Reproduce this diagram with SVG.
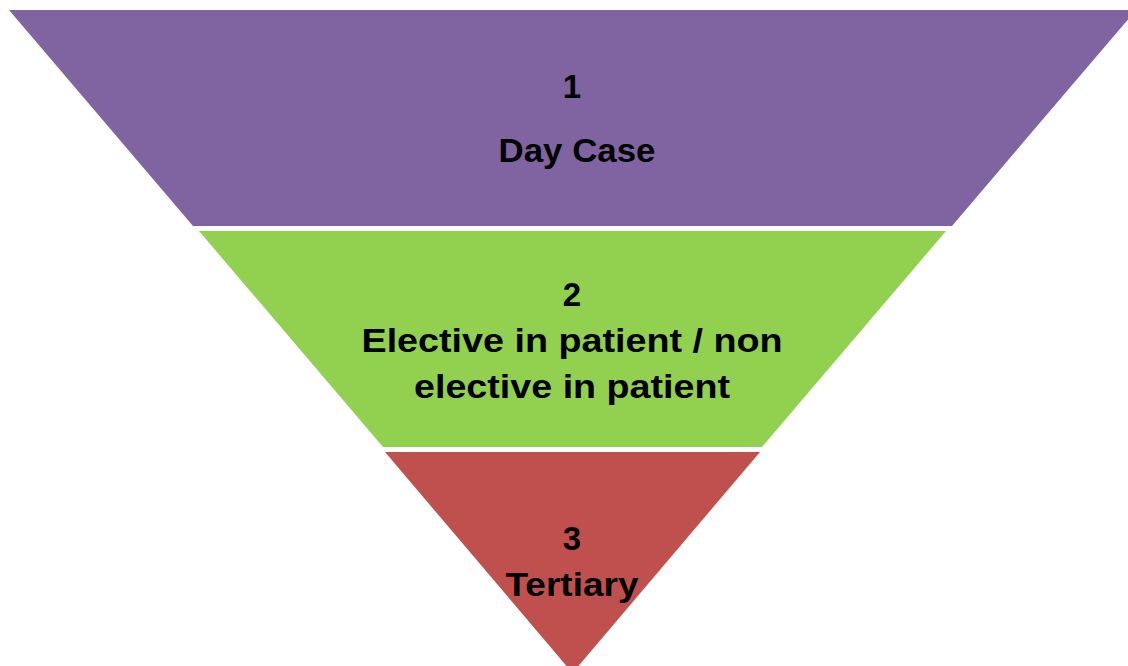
<svg xmlns="http://www.w3.org/2000/svg" width="1128" height="666" viewBox="0 0 1128 666">
<style>
.t{font-family:"Liberation Sans",Arial,sans-serif;font-weight:bold;font-size:33px;fill:#000;text-anchor:middle}
</style>
<rect width="1128" height="666" fill="#fff"/>
<g id="level1">
<polygon points="9,10 1136,10 952,226 193,226" fill="#8064A2"/>
<text class="t" x="572" y="98">1</text>
<text class="t" x="577" y="162" textLength="157" lengthAdjust="spacingAndGlyphs">Day Case</text>
</g>
<g id="level2">
<polygon points="199,231 946,231 762,447 383,447" fill="#92D050"/>
<text class="t" x="572" y="306">2</text>
<text class="t" x="572" y="352" textLength="421" lengthAdjust="spacingAndGlyphs">Elective in patient / non</text>
<text class="t" x="572" y="398" textLength="316" lengthAdjust="spacingAndGlyphs">elective in patient</text>
</g>
<g id="level3">
<polygon points="385,452 760,452 572.5,673" fill="#C0504D"/>
<text class="t" x="572" y="550">3</text>
<text class="t" x="572" y="596" textLength="133" lengthAdjust="spacingAndGlyphs">Tertiary</text>
</g>
<g id="connectors"></g>
</svg>
